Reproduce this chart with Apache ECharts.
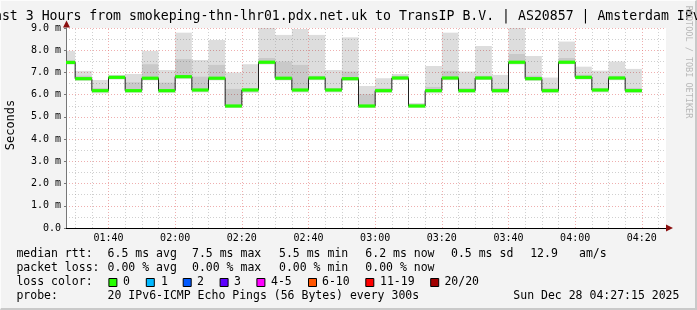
<!DOCTYPE html>
<html><head><meta charset="utf-8">
<script src="https://cdn.jsdelivr.net/npm/echarts@6/dist/echarts.min.js"></script>
<style>
html,body{margin:0;padding:0;background:#f3f3f3;overflow:hidden;}
#wrap{position:absolute;left:0;top:0;width:697px;height:310px;box-sizing:border-box;border-right:2px solid #c9c9c9;border-bottom:2px solid #c9c9c9;border-top:1px solid #fcfcfc;border-left:1px solid #fcfcfc;}
#chart{position:absolute;left:0;top:0;width:697px;height:310px;}
</style></head><body>
<div id="wrap"></div><div id="chart"></div>
<script>
// ---- data ----
const sampleEnds = ['01:30','01:35','01:40','01:45','01:50','01:55','02:00','02:05','02:10','02:15','02:20','02:25','02:30','02:35','02:40','02:45','02:50','02:55','03:00','03:05','03:10','03:15','03:20','03:25','03:30','03:35','03:40','03:45','03:50','03:55','04:00','04:05','04:10','04:15','04:20'];
const median   = [7.45,6.72,6.18,6.78,6.18,6.74,6.18,6.81,6.21,6.74,5.49,6.21,7.46,6.74,6.21,6.75,6.21,6.72,5.49,6.18,6.75,5.49,6.18,6.75,6.18,6.75,6.18,7.46,6.72,6.18,7.46,6.78,6.21,6.75,6.18];
const smokeMax = [7.97,7.07,6.66,6.89,6.93,7.97,7.11,8.79,7.56,8.46,7.00,7.37,9.05,8.69,8.96,8.69,7.11,8.58,6.39,6.74,6.93,5.61,7.29,8.79,7.04,8.19,6.89,9.05,7.74,6.77,8.39,7.26,7.08,7.49,7.16];
const smokeMin = [7.36,6.62,6.06,6.68,6.08,6.64,6.07,6.70,6.10,6.64,5.40,6.08,7.36,6.64,6.10,6.65,6.10,6.62,5.40,6.08,6.65,5.41,6.06,6.65,6.08,6.66,6.07,7.36,6.62,6.07,7.37,6.68,6.10,6.65,6.07];
const darkLo   = [7.40,6.67,6.12,6.73,6.12,6.69,6.12,6.75,6.15,6.69,5.44,6.15,7.40,6.69,6.15,6.70,6.15,6.67,5.44,6.12,6.70,5.44,6.12,6.70,6.12,6.70,6.12,7.40,6.67,6.12,7.40,6.73,6.15,6.70,6.12];
const darkHi   = [7.55,6.85,6.30,6.85,6.56,7.37,6.54,7.60,6.81,7.34,6.26,6.30,7.65,7.49,7.34,6.85,6.30,7.04,6.02,6.30,6.85,5.60,6.35,7.07,6.30,6.85,6.30,7.83,6.85,6.30,7.65,6.90,6.30,6.85,6.30];
const xTickLabels = ['01:40','02:00','02:20','02:40','03:00','03:20','03:40','04:00','04:20'];
const yTicks = [0,1,2,3,4,5,6,7,8,9];
const title = 'Last 3 Hours from smokeping-thn-lhr01.pdx.net.uk to TransIP B.V. | AS20857 | Amsterdam IPv6';
const startTime = '01:27:15', endTime = '04:27:15';

function toMin(s){const p=s.split(':').map(Number);return p[0]*60+p[1]+(p[2]||0)/60;}
function fmt(v){const h=Math.floor(v/60),m=Math.round(v-h*60);return String(h).padStart(2,'0')+':'+String(m).padStart(2,'0');}
const xMin = toMin(startTime), xMax = toMin(endTime);

const ends = sampleEnds.map(toMin);
const segs = ends.map((e,i)=>[i===0?xMin:ends[i-1], e, smokeMin[i], smokeMax[i], darkLo[i], darkHi[i], median[i]]);
const lineData = [[xMin, median[0]]].concat(ends.map((e,i)=>[e, median[i]]));

const majorX = xTickLabels.map(toMin);
const gridX = [];
for (let t = Math.ceil(xMin/5)*5; t < xMax; t += 5) gridX.push(t);
const majorStyle = {color:'rgba(225,110,110,0.55)', type:[1,2], width:1};
const minorStyle = {color:'rgba(150,150,150,0.45)', type:[1,2], width:1};
const vLines = gridX.map(t => ({xAxis:t, lineStyle: majorX.indexOf(t)>=0 ? majorStyle : minorStyle}));

const mono = '"DejaVu Sans Mono", monospace';
const chart = echarts.init(document.getElementById('chart'), null, {renderer:'canvas'});

function smokeItem(params, api){
  const s=api.value(0), e=api.value(1), lo=api.value(2), hi=api.value(3), dlo=api.value(4), dhi=api.value(5);
  const a=api.coord([s,hi]), b=api.coord([e,lo]);
  const c=api.coord([s,dhi]), d=api.coord([e,dlo]);
  const cs = params.coordSys;
  const r1 = echarts.graphic.clipRectByRect({x:a[0],y:a[1],width:b[0]-a[0],height:b[1]-a[1]}, cs);
  const r2 = echarts.graphic.clipRectByRect({x:c[0],y:c[1],width:d[0]-c[0],height:d[1]-c[1]}, cs);
  const ch=[];
  if (r1) ch.push({type:'rect', shape:r1, style:{fill:'rgba(0,0,0,0.135)'}});
  if (r2) ch.push({type:'rect', shape:r2, style:{fill:'rgba(0,0,0,0.09)'}});
  return {type:'group', children:ch};
}
function greenItem(params, api){
  const s=api.value(0), e=api.value(1), m=api.value(6);
  const a=api.coord([s,m]), b=api.coord([e,m]);
  return {type:'rect', shape:{x:a[0], y:a[1]-1.6, width:b[0]-a[0], height:3.2}, style:{fill:'#26ff00'}};
}

const legendColors = [['0','#26ff00'],['1','#00b8ff'],['2','#0059ff'],['3','#5e00ff'],['4-5','#ff00ff'],['6-10','#ff5500'],['11-19','#ff0000'],['20/20','#a10000']];
const legendBoxX = [108.4,145.8,182.7,219.6,256.4,308,365.3,430.2];
const legendTextX = [123,161,197,234,271,322,380,444.4];

const texts = [
  ['median rtt:',16.4,254],['6.5 ms avg',107.6,254],['7.5 ms max',192,254],['5.5 ms min',279,254],['6.2 ms now',365.3,254],['0.5 ms sd',451,254],['12.9',530.2,254],['am/s',579,254],
  ['packet loss:',16.4,268],['0.00 % avg',107.6,268],['0.00 % max',192,268],['0.00 % min',279,268],['0.00 % now',365.3,268],
  ['loss color:',16.4,282],
  ['probe:',16.4,296],['20 IPv6-ICMP Echo Pings (56 Bytes) every 300s',107.6,296],['Sun Dec 28 04:27:15 2025',513.3,296]
];
const graphics = [];
texts.forEach(t=>graphics.push({type:'text', x:t[1], y:t[2], style:{text:t[0], font:'11.5px '+mono, fill:'#000', textVerticalAlign:'middle', textAlign:'left'}}));
legendColors.forEach((lc,i)=>{
  graphics.push({type:'rect', shape:{x:legendBoxX[i]+0.5,y:278.5,width:8,height:8}, style:{fill:lc[1], stroke:'#000', lineWidth:1}});
  graphics.push({type:'text', x:legendTextX[i], y:282, style:{text:lc[0], font:'11.5px '+mono, fill:'#000', textVerticalAlign:'middle'}});
});
graphics.push({type:'text', x:347.3, y:17, style:{text:title, font:'13.2px '+mono, fill:'#000', textAlign:'center', textVerticalAlign:'middle'}});
graphics.push({type:'text', x:10.5, y:125, rotation:Math.PI/2, style:{text:'Seconds', font:'12px '+mono, fill:'#000', textAlign:'center', textVerticalAlign:'middle'}});
graphics.push({type:'text', x:688.5, y:62, rotation:-Math.PI/2, style:{text:'RRDTOOL / TOBI OETIKER', font:'8.5px '+mono, fill:'#b8b8b8', textAlign:'center', textVerticalAlign:'middle'}});
graphics.push({type:'polygon', shape:{points:[[666,224.5],[666,231.5],[673,228]]}, style:{fill:'#8b1010'}, z:10});
graphics.push({type:'polygon', shape:{points:[[63,27.5],[70,27.5],[66.5,20.5]]}, style:{fill:'#8b1010'}, z:10});

chart.setOption({
  animation:false,
  backgroundColor:'transparent',
  grid:{left:66, top:28, width:600, height:200, show:true, backgroundColor:'#ffffff', borderWidth:0},
  xAxis:{type:'value', min:xMin, max:xMax,
    axisLine:{show:true, lineStyle:{color:'#000', width:1}},
    axisTick:{show:false},
    splitLine:{show:false},
    axisLabel:{customValues:majorX, formatter:v=>fmt(v), fontFamily:'DejaVu Sans Mono', fontSize:10, color:'#000', margin:5}
  },
  yAxis:{type:'value', min:0, max:9, interval:1,
    axisLine:{show:true, lineStyle:{color:'#777', width:1}},
    axisTick:{show:true, length:2, lineStyle:{color:'#777'}},
    axisLabel:{formatter:v=>v===0?'0.0':v.toFixed(1)+' m', fontFamily:'DejaVu Sans Mono', fontSize:10, color:'#000', margin:5},
    splitLine:{show:true, lineStyle:majorStyle},
    minorTick:{show:false, splitNumber:2},
    minorSplitLine:{show:true, lineStyle:minorStyle}
  },
  graphic:graphics,
  series:[
    {type:'custom', name:'smoke', renderItem:smokeItem, data:segs, z:1, silent:true},
    {type:'line', name:'median', data:lineData, step:'start', symbol:'none', z:3, silent:true,
      lineStyle:{color:'#202020', width:1},
      markLine:{silent:true, symbol:['none','none'], label:{show:false}, animation:false, data:vLines, z:2}
    },
    {type:'custom', name:'loss', renderItem:greenItem, data:segs, z:4, silent:true}
  ]
});
</script>
</body></html>
